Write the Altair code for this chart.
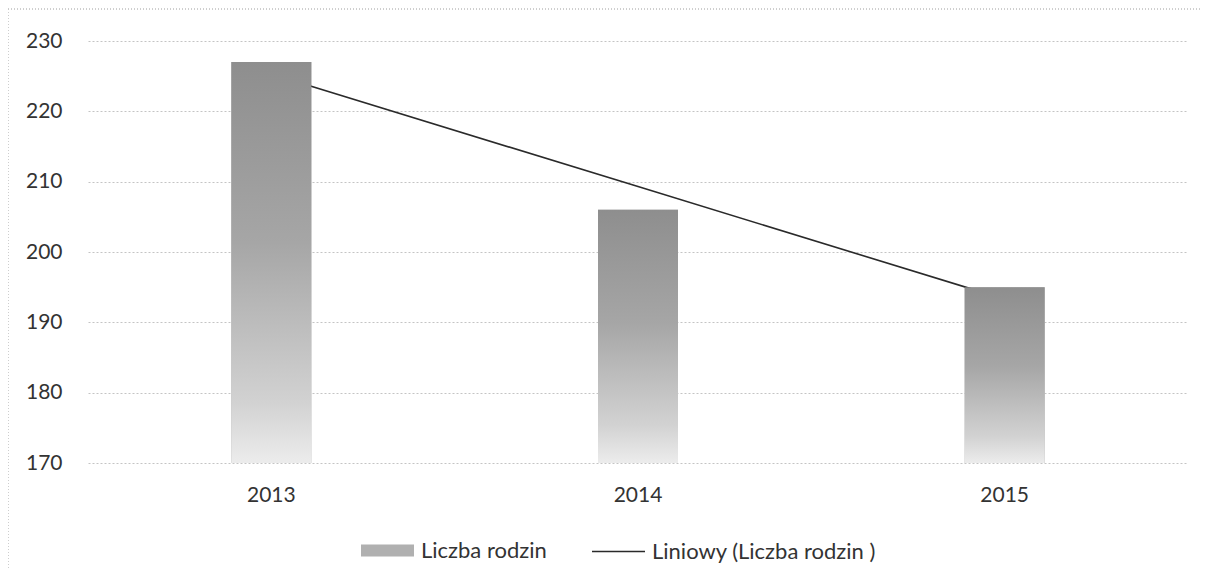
import altair as alt
import pandas as pd

# ---- data ----
years = ["2013", "2014", "2015"]
families = [227, 206, 195]            # Liczba rodzin (bars)
trend = [225.3, 209.3, 193.3]         # Liniowy (Liczba rodzin ) trendline values
y_ticks = [170, 180, 190, 200, 210, 220, 230]
y_min, y_max = 170, 230
bar_name = "Liczba rodzin"
trend_name = "Liniowy (Liczba rodzin )"

df = pd.DataFrame({
    "year": years,
    "value": families,
    "trend": trend,
    "bar_series": [bar_name] * len(years),
    "trend_series": [trend_name] * len(years),
})

FONT = "Lato"
TXT = "#333333"
W, H = 1100, 422

x_enc = alt.X(
    "year:N",
    sort=years,
    scale=alt.Scale(paddingInner=0, paddingOuter=0),
    axis=alt.Axis(title=None, labelAngle=0, domain=False, ticks=False, grid=False,
                  labelPadding=21, labelFontSize=21, labelFont=FONT, labelColor=TXT),
)
y_scale = alt.Scale(domain=[y_min, y_max], nice=False, zero=False)
y_axis = alt.Axis(title=None, values=y_ticks, domain=False, ticks=False, grid=True,
                  gridColor="#c4c4c4", gridDash=[2, 2], gridWidth=1,
                  labelPadding=26, labelFontSize=21, labelFont=FONT, labelColor=TXT)

base = alt.Chart(df)

# hidden bar layer that only provides the legend entry for the bars
bar_legend = base.mark_bar(size=80).encode(
    x=x_enc,
    y=alt.Y("value:Q", scale=y_scale, axis=y_axis),
    y2=alt.datum(y_min),
    fill=alt.Fill("bar_series:N",
                  scale=alt.Scale(domain=[bar_name], range=["#b0b0b0"]),
                  legend=alt.Legend(title=None, orient="none", legendX=273, legendY=483,
                                    symbolType="M-1,-0.23H1V0.23H-1Z", symbolSize=2809,
                                    symbolStrokeWidth=0, labelFont=FONT, labelFontSize=22,
                                    labelColor=TXT, labelOffset=7, padding=0, labelLimit=500)),
)

line = base.mark_line(strokeWidth=1.6).encode(
    x=x_enc,
    y=alt.Y("trend:Q", scale=y_scale),
    stroke=alt.Stroke("trend_series:N",
                      scale=alt.Scale(domain=[trend_name], range=["#2a2a2a"]),
                      legend=alt.Legend(title=None, orient="none", legendX=503, legendY=483,
                                        symbolType="stroke", symbolSize=2809,
                                        symbolStrokeWidth=1.5, labelFont=FONT, labelFontSize=22,
                                        labelColor=TXT, labelOffset=6, padding=0, labelLimit=500)),
)

gradient = alt.Gradient(
    gradient="linear",
    stops=[
        alt.GradientStop(color="#8e8e8e", offset=0),
        alt.GradientStop(color="#a6a6a6", offset=0.45),
        alt.GradientStop(color="#d2d2d2", offset=0.85),
        alt.GradientStop(color="#ececec", offset=1),
    ],
    x1=0, x2=0, y1=0, y2=1,
)
bars = base.mark_bar(size=80, color=gradient).encode(
    x=x_enc,
    y=alt.Y("value:Q", scale=y_scale),
    y2=alt.datum(y_min),
)

frame = base.mark_rect(filled=False, stroke="#c8c8c8", strokeDash=[1, 2], strokeWidth=1).encode(
    x=alt.value(-80), x2=alt.value(W + 40), y=alt.value(-32), y2=alt.value(H + 200)
)

chart = alt.layer(frame, bar_legend, line, bars).properties(
    width=W, height=H,
    autosize=alt.AutoSizeParams(type="none"),
    padding={"left": 80, "top": 33, "right": 13, "bottom": 107},
).configure_view(stroke=None)

chart.save("out.html", embed_options={"renderer": "svg", "actions": False})
